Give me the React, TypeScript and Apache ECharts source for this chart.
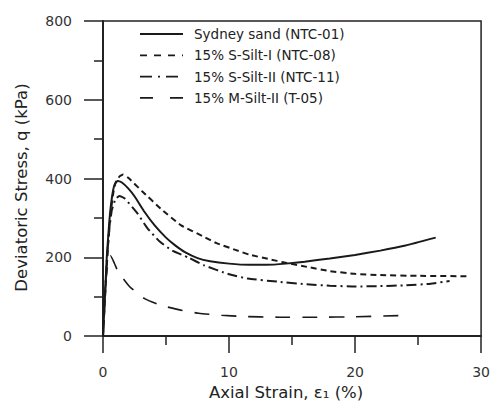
import React, { useEffect, useRef } from "react";
import * as echarts from "echarts";

const seriesNames = [
  "Sydney sand (NTC-01)",
  "15% S-Silt-I (NTC-08)",
  "15% S-Silt-II (NTC-11)",
  "15% M-Silt-II (T-05)",
];

const sydneySand: [number, number][] = [
  [0, 0], [0.15, 100], [0.3, 200], [0.5, 290], [0.7, 350], [0.9, 383], [1.15, 394],
  [1.5, 390], [2.0, 375], [2.5, 355], [3.3, 315], [4.1, 281], [5.0, 250], [5.7, 231],
  [6.5, 213], [7.5, 198], [8.5, 190], [10, 184], [11.6, 181], [13, 181], [14.5, 184],
  [16, 189], [18, 197], [20, 206], [22, 217], [24, 230], [26.4, 250],
];

const sSiltI: [number, number][] = [
  [0, 0], [0.2, 120], [0.4, 230], [0.6, 310], [0.8, 360], [1.0, 390], [1.3, 405],
  [1.6, 410], [2.0, 402], [3.1, 368], [4.6, 323], [6.2, 281], [7.9, 254], [9.0, 236],
  [10.5, 219], [11.6, 207], [13.1, 196], [14.5, 186], [16.3, 175], [18, 165], [20, 158],
  [22, 155], [25, 153], [29, 152],
];

const sSiltII: [number, number][] = [
  [0, 0], [0.15, 100], [0.3, 190], [0.5, 270], [0.7, 320], [1.0, 348], [1.3, 356],
  [1.7, 350], [2.7, 313], [3.5, 275], [4.5, 240], [5.5, 217], [6.8, 199], [8.0, 180],
  [10, 157], [11.5, 146], [13.9, 138], [16, 132], [18, 128], [20, 126], [22, 127],
  [24, 129], [26, 133], [27.5, 140],
];

const mSiltII: [number, number][] = [
  [0, 0], [0.1, 80], [0.25, 150], [0.45, 198], [0.6, 204], [0.9, 185], [1.2, 164],
  [2.1, 126], [3.3, 95], [4.6, 78], [6.3, 65], [7.6, 58], [9.4, 53], [11, 50], [14, 48],
  [17, 48], [20, 49], [23.5, 52],
];

const xTicks = [0, 10, 20, 30];
const yTicks = [0, 200, 400, 600, 800];

const FONT = "'DejaVu Sans', 'Liberation Sans', Arial, sans-serif";

export default function App() {
  const ref = useRef<HTMLDivElement>(null);
  useEffect(() => {
    if (!ref.current) return;
    const chart = echarts.init(ref.current, undefined, { renderer: "svg" });
    const lineColor = "#1a1a1a";
    const datasets = [sydneySand, sSiltI, sSiltII, mSiltII];
    const dashTypes: any[] = ["solid", [6, 4], [10, 4, 2, 4], [15, 12]];
    const legendDash: any[] = [null, [7, 7], [12, 6, 2, 6], [13, 17]];
    const widths = [2, 2, 2, 1.6];
    const legendTop = 34;
    const legendStep = 21.3;
    const legendGraphics: any[] = [];
    seriesNames.forEach((name, i) => {
      const y = legendTop + i * legendStep;
      legendGraphics.push({
        type: "line",
        shape: { x1: 140, y1: y, x2: 183, y2: y },
        style: { stroke: lineColor, lineWidth: 1.8, lineDash: legendDash[i] || undefined },
      });
      legendGraphics.push({
        type: "text",
        x: 194,
        y: y,
        style: {
          text: name,
          fontSize: 13.5,
          fontFamily: FONT,
          fill: "#222",
          verticalAlign: "middle",
          align: "left",
        },
      });
    });
    chart.setOption({
      animation: false,
      textStyle: { fontFamily: FONT },
      grid: {
        left: 103, width: 380, top: 21, height: 322,
        show: true, borderColor: "#222", borderWidth: 1.5,
      },
      graphic: legendGraphics,
      xAxis: {
        type: "value",
        min: xTicks[0],
        max: xTicks[xTicks.length - 1],
        interval: 10,
        name: "Axial Strain, ε₁ (%)",
        nameLocation: "middle",
        nameGap: 43,
        nameTextStyle: { fontSize: 16.5, color: "#222", fontFamily: FONT, padding: [0, 12, 0, 0] },
        axisLine: { lineStyle: { color: "#222", width: 2 } },
        axisTick: { show: true, inside: false, length: 17, lineStyle: { color: "#222", width: 1.5 } },
        minorTick: { show: true, splitNumber: 2, length: 9, lineStyle: { color: "#222", width: 1.5 } },
        axisLabel: { fontSize: 14, color: "#333", margin: 29 },
        splitLine: { show: false },
      },
      yAxis: {
        type: "value",
        min: yTicks[0],
        max: yTicks[yTicks.length - 1],
        interval: 200,
        name: "Deviatoric Stress, q (kPa)",
        nameLocation: "middle",
        nameGap: 73,
        nameRotate: 90,
        nameTextStyle: { fontSize: 16.5, color: "#222", fontFamily: FONT, padding: [0, 18, 0, 0] },
        axisLine: { show: true, lineStyle: { color: "#222", width: 2 } },
        axisTick: { show: true, inside: false, length: 19, lineStyle: { color: "#222", width: 1.5 } },
        minorTick: { show: true, splitNumber: 2, length: 9, lineStyle: { color: "#222", width: 1.5 } },
        axisLabel: { fontSize: 14, color: "#333", margin: 31 },
        splitLine: { show: false },
      },
      series: datasets.map((d, i) => ({
        name: seriesNames[i],
        type: "line",
        data: d,
        symbol: "none",
        showSymbol: false,
        smooth: 0.15,
        lineStyle: { color: lineColor, width: widths[i], type: dashTypes[i] },
        itemStyle: { color: lineColor },
      })),
    });
    return () => chart.dispose();
  }, []);
  return (
    <div
      ref={ref}
      style={{ position: "fixed", left: 0, top: 0, width: 493, height: 406, background: "#fff" }}
    />
  );
}
